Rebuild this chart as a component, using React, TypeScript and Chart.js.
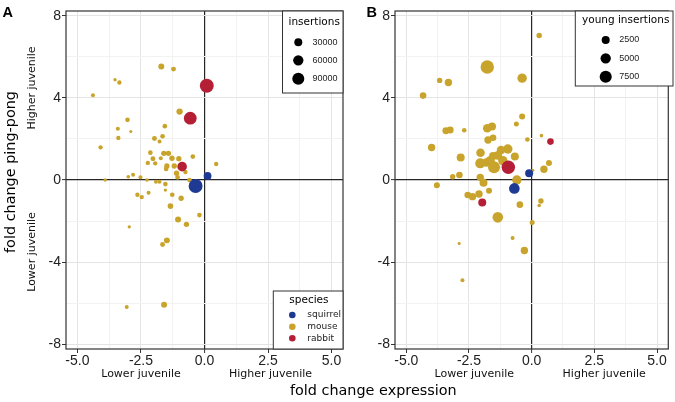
import React, { useEffect, useRef } from 'react';
import { Chart, registerables } from 'chart.js';

Chart.register(...registerables);

// ---------- shared axis data ----------
const xTickValues = [-5, -3.75, -2.5, -1.25, 0, 1.25, 2.5, 3.75, 5];
const xTickLabels = ['-5.0', '', '-2.5', '', '0.0', '', '2.5', '', '5.0'];
const yTickValues = [-8, -6, -4, -2, 0, 2, 4, 6, 8];
const yTickLabels = ['-8', '', '-4', '', '0', '', '4', '', '8'];
const speciesNames = ['squirrel', 'mouse', 'rabbit'];
const speciesColors = ['#1f3a93', '#c9a42c', '#b41f36'];

// ---------- panel A : insertions ----------
const aLegendValues = [30000, 60000, 90000];
const aMouseX = [-1.70, -1.22, -3.52, -3.35, -4.39, -0.98, -3.03, -1.56, -3.41, -2.90, -3.39, -1.97, -1.65, -1.77, -4.09, -0.46, 0.46, -2.13, -1.60, -1.42, -2.03, -2.23, -1.94, -1.72, -1.28, -1.01, -1.48, -1.51, -1.19, -1.10, -1.06, -0.75, -0.59, -3.00, -2.81, -2.52, -2.26, -3.91, -1.91, -1.77, -1.54, -1.54, -2.64, -2.47, -2.20, -1.27, -0.92, -1.34, -0.20, -1.04, -0.71, -2.96, -1.48, -1.65, -3.06, -1.59];
const aMouseY = [5.53, 5.40, 4.88, 4.75, 4.13, 3.33, 2.93, 2.62, 2.49, 2.36, 2.05, 2.02, 2.13, 1.87, 1.59, 1.14, 0.78, 1.33, 1.30, 1.30, 1.04, 0.83, 0.81, 1.06, 1.06, 1.04, 0.68, 0.54, 0.68, 0.33, 0.13, 0.39, 0.00, 0.16, 0.26, 0.13, 0.00, 0.00, -0.08, -0.08, -0.20, -0.49, -0.72, -0.83, -0.62, -0.72, -0.89, -1.27, -1.71, -1.92, -2.16, -2.28, -2.94, -3.14, -6.18, -6.08];
const aMouseIns = [12000, 6000, 700, 3300, 2200, 14500, 4600, 4600, 2200, 250, 3300, 6000, 4600, 2200, 3300, 4600, 3300, 4600, 8000, 8000, 6000, 3300, 3300, 2200, 8000, 8000, 8000, 4600, 8000, 8000, 4600, 3300, 4600, 1300, 2200, 2200, 1300, 700, 2200, 2200, 4600, 700, 3300, 3300, 2200, 4600, 8000, 9900, 4600, 12000, 8000, 700, 12000, 6000, 2200, 12000];
const aSquirrelX = [-0.35, 0.12];
const aSquirrelY = [-0.29, 0.20];
const aSquirrelIns = [130000, 28000];
const aRabbitX = [0.09, -0.56, -0.88];
const aRabbitY = [4.59, 3.01, 0.65];
const aRabbitIns = [130000, 105000, 50000];

// ---------- panel B : young insertions ----------
const bLegendValues = [2500, 5000, 7500];
const bMouseX = [-1.77, -0.38, -3.67, -3.32, -4.33, 0.30, -0.38, -0.61, -3.42, -3.25, -2.69, -1.77, -1.58, -1.74, -1.54, -0.17, 0.39, -3.99, -2.83, -2.04, -1.54, -1.22, -0.95, -0.67, -2.05, -1.81, -1.50, -1.15, -1.35, -1.65, 0.49, 0.69, 0.04, -0.59, -3.15, -2.88, -3.78, -2.05, -1.92, -1.70, -2.55, -2.36, -2.10, -0.47, 0.37, 0.30, -1.35, 0.02, -0.76, -2.89, -0.29, -2.76];
const bMouseY = [5.50, 4.96, 4.85, 4.75, 4.11, 7.04, 3.09, 2.73, 2.40, 2.43, 2.42, 2.52, 2.60, 1.95, 2.06, 1.97, 2.16, 1.58, 1.09, 1.33, 1.17, 1.46, 1.51, 1.14, 0.81, 0.85, 0.62, 0.94, 1.20, 0.95, 0.52, 0.83, 0.47, 0.00, 0.16, 0.24, -0.26, 0.13, -0.13, -0.52, -0.73, -0.81, -0.68, -1.20, -1.02, -1.24, -1.82, -2.07, -2.83, -3.09, -3.43, -4.88];
const bMouseIns = [9700, 3900, 690, 1960, 1370, 690, 1000, 510, 1650, 1650, 360, 3040, 2470, 1960, 1370, 360, 100, 1960, 2470, 3040, 2470, 3040, 3890, 2470, 4590, 3040, 7370, 3890, 3040, 3450, 1960, 1000, 66, 3890, 690, 1370, 1000, 1960, 2470, 1000, 1370, 1960, 1960, 1370, 690, 100, 5360, 510, 184, 20, 1960, 184];
const bSquirrelX = [-0.10, -0.69];
const bSquirrelY = [0.33, -0.41];
const bSquirrelIns = [2470, 5360];
const bRabbitX = [0.75, -0.93, -1.97];
const bRabbitY = [1.87, 0.62, -1.09];
const bRabbitIns = [1370, 9700, 2470];

// size scales (area-like, sqrt)
const radiusA = (v: number) => 1.26 + 0.5 * Math.sqrt(v / 1000);
const radiusB = (v: number) => 1.25 + 1.75 * Math.sqrt(v / 1000);

const X_MIN = -5.45, X_MAX = 5.45, Y_MIN = -8.23, Y_MAX = 8.23;
const TICK_FONT = '"Liberation Sans", Arial, sans-serif';
const TEXT_FONT = '"DejaVu Sans", Verdana, sans-serif';

const majorX = new Set([-5, -2.5, 0, 2.5, 5]);
const majorY = new Set([-8, -4, 0, 4, 8]);

function gridColor(major: Set<number>) {
  return (ctx: any) => {
    const v = ctx.tick ? ctx.tick.value : 1;
    if (v === 0) return '#262626';
    return major.has(v) ? '#e4e4e4' : '#f2f2f2';
  };
}
function gridWidth(ctx: any) {
  const v = ctx.tick ? ctx.tick.value : 1;
  return v === 0 ? 1.2 : 1;
}
function tickColor(major: Set<number>) {
  return (ctx: any) => {
    const v = ctx.tick ? ctx.tick.value : 1;
    return major.has(v) ? '#333333' : 'rgba(0,0,0,0)';
  };
}

function makeDataset(label: string, xs: number[], ys: number[], vs: number[], color: string, rfn: (v: number) => number, order: number) {
  const r = vs.map(rfn);
  return {
    label,
    data: xs.map((x, i) => ({ x, y: ys[i] })),
    backgroundColor: color,
    borderWidth: 0,
    pointBorderWidth: 0,
    pointRadius: r,
    pointHoverRadius: r,
    order,
  };
}

function rotText(ctx: CanvasRenderingContext2D, text: string, x: number, y: number, font: string, color: string) {
  ctx.save();
  ctx.translate(x, y);
  ctx.rotate(-Math.PI / 2);
  ctx.font = font;
  ctx.fillStyle = color;
  ctx.textAlign = 'center';
  ctx.textBaseline = 'middle';
  ctx.fillText(text, 0, 0);
  ctx.restore();
}
function text(ctx: CanvasRenderingContext2D, s: string, x: number, y: number, font: string, color: string, align: CanvasTextAlign = 'center', base: CanvasTextBaseline = 'middle') {
  ctx.save();
  ctx.font = font;
  ctx.fillStyle = color;
  ctx.textAlign = align;
  ctx.textBaseline = base;
  ctx.fillText(s, x, y);
  ctx.restore();
}
function box(ctx: CanvasRenderingContext2D, x1: number, y1: number, x2: number, y2: number) {
  ctx.save();
  ctx.fillStyle = '#ffffff';
  ctx.fillRect(x1, y1, x2 - x1, y2 - y1);
  ctx.strokeStyle = '#333333';
  ctx.lineWidth = 1;
  ctx.strokeRect(x1, y1, x2 - x1, y2 - y1);
  ctx.restore();
}
function dot(ctx: CanvasRenderingContext2D, x: number, y: number, r: number, color: string) {
  ctx.save();
  ctx.fillStyle = color;
  ctx.beginPath();
  ctx.arc(x, y, r, 0, Math.PI * 2);
  ctx.fill();
  ctx.restore();
}

type PanelCfg = {
  letter: string;
  letterX: number;
  left: number;
  right: number;
  datasets: any[];
  legendTitle: string;
  legendValues: number[];
  rfn: (v: number) => number;
  legendBox: [number, number, number, number];
  legendTitleX: number;
  legendDotX: number;
  legendLabelX: number;
  legendRowsY: number[];
  legendTitleY: number;
  xSub: [number, number];
  extra: (ctx: CanvasRenderingContext2D) => void;
};

function makeConfig(p: PanelCfg): any {
  const overlay = {
    id: 'overlay' + p.letter,
    afterDraw(chart: any) {
      const ctx: CanvasRenderingContext2D = chart.ctx;
      const a = chart.chartArea;
      // panel border
      ctx.save();
      ctx.strokeStyle = '#333333';
      ctx.lineWidth = 1.2;
      ctx.strokeRect(a.left, a.top, a.right - a.left, a.bottom - a.top);
      ctx.restore();
      // size legend
      const [bx1, by1, bx2, by2] = p.legendBox;
      box(ctx, bx1, by1, bx2, by2);
      text(ctx, p.legendTitle, p.legendTitleX, p.legendTitleY, '10.5px ' + TEXT_FONT, '#000', 'left');
      p.legendValues.forEach((v, i) => {
        dot(ctx, p.legendDotX, p.legendRowsY[i], p.rfn(v), '#000');
        text(ctx, String(v), p.legendLabelX, p.legendRowsY[i], '9px ' + TICK_FONT, '#222', 'left');
      });
      // x sub labels
      text(ctx, 'Lower juvenile', p.xSub[0], 374, '11px ' + TEXT_FONT, '#111');
      text(ctx, 'Higher juvenile', p.xSub[1], 374, '11px ' + TEXT_FONT, '#111');
      // panel letter
      text(ctx, p.letter, p.letterX, 16.5, 'bold 14.5px ' + TICK_FONT, '#000', 'left', 'alphabetic');
      p.extra(ctx);
    },
  };
  return {
    type: 'scatter',
    data: { datasets: p.datasets },
    plugins: [overlay],
    options: {
      animation: false,
      responsive: false,
      events: [],
      layout: { padding: { left: p.left - 60, right: 675 - p.right, top: 11, bottom: 0 } },
      plugins: { legend: { display: false }, tooltip: { enabled: false } },
      scales: {
        x: {
          type: 'linear',
          min: X_MIN,
          max: X_MAX,
          afterBuildTicks: (s: any) => { s.ticks = xTickValues.map((v) => ({ value: v })); },
          afterFit: (s: any) => { s.height = 53; },
          border: { display: false },
          grid: { color: gridColor(majorX), lineWidth: gridWidth, tickLength: 4, tickColor: tickColor(majorX), tickWidth: 1, drawTicks: true },
          ticks: {
            autoSkip: false, maxRotation: 0, minRotation: 0, padding: 0, color: '#222',
            font: { family: TICK_FONT, size: 14 },
            callback: (v: number) => xTickLabels[xTickValues.indexOf(v)] ?? '',
          },
        },
        y: {
          type: 'linear',
          min: Y_MIN,
          max: Y_MAX,
          afterBuildTicks: (s: any) => { s.ticks = yTickValues.map((v) => ({ value: v })); },
          afterFit: (s: any) => { s.width = 60; },
          border: { display: false },
          grid: { color: gridColor(majorY), lineWidth: gridWidth, tickLength: 4, tickColor: tickColor(majorY), tickWidth: 1, drawTicks: true },
          ticks: {
            autoSkip: false, padding: 1, color: '#222',
            font: { family: TICK_FONT, size: 14 },
            callback: (v: number) => yTickLabels[yTickValues.indexOf(v)] ?? '',
          },
        },
      },
    },
  };
}

const configA = (): any => makeConfig({
  letter: 'A',
  letterX: 2.5,
  left: 66,
  right: 343,
  datasets: [
    makeDataset('rabbit', aRabbitX, aRabbitY, aRabbitIns, speciesColors[2], radiusA, 1),
    makeDataset('squirrel', aSquirrelX, aSquirrelY, aSquirrelIns, speciesColors[0], radiusA, 2),
    makeDataset('mouse', aMouseX, aMouseY, aMouseIns, speciesColors[1], radiusA, 3),
  ],
  legendTitle: 'insertions',
  legendValues: aLegendValues,
  rfn: radiusA,
  legendBox: [282.5, 11, 343, 93],
  legendTitleX: 288.5,
  legendTitleY: 22.5,
  legendDotX: 298.3,
  legendLabelX: 312.5,
  legendRowsY: [42.3, 60.3, 78.7],
  xSub: [141, 270.5],
  extra: (ctx) => {
    // y axis title + sub labels
    rotText(ctx, 'fold change ping-pong', 11.5, 172, '14.4px ' + TEXT_FONT, '#000');
    rotText(ctx, 'Higher juvenile', 32.5, 88, '11px ' + TEXT_FONT, '#111');
    rotText(ctx, 'Lower juvenile', 32.5, 252, '11px ' + TEXT_FONT, '#111');
    // species legend
    box(ctx, 273.3, 291, 343, 349);
    text(ctx, 'species', 289.3, 300, '10.5px ' + TEXT_FONT, '#000', 'left');
    const rows = [315, 326.7, 338.3];
    speciesNames.forEach((n, i) => {
      dot(ctx, 292.3, rows[i], 3.3, speciesColors[i]);
      text(ctx, n, 307.3, rows[i], '9px ' + TEXT_FONT, '#222', 'left');
    });
  },
});

const configB = (): any => makeConfig({
  letter: 'B',
  letterX: 366.5,
  left: 395,
  right: 673,
  datasets: [
    makeDataset('rabbit', bRabbitX, bRabbitY, bRabbitIns, speciesColors[2], radiusB, 1),
    makeDataset('squirrel', bSquirrelX, bSquirrelY, bSquirrelIns, speciesColors[0], radiusB, 2),
    makeDataset('mouse', bMouseX, bMouseY, bMouseIns, speciesColors[1], radiusB, 3),
  ],
  legendTitle: 'young insertions',
  legendValues: bLegendValues,
  rfn: radiusB,
  legendBox: [575.3, 11, 673, 86],
  legendTitleX: 582,
  legendTitleY: 20.7,
  legendDotX: 605.7,
  legendLabelX: 619.3,
  legendRowsY: [40, 58.3, 76.7],
  xSub: [474.3, 604.2],
  extra: (ctx) => {
    text(ctx, 'fold change expression', 373.3, 391, '14.4px ' + TEXT_FONT, '#000');
  },
});

export default function App() {
  const refA = useRef<HTMLCanvasElement | null>(null);
  const refB = useRef<HTMLCanvasElement | null>(null);
  useEffect(() => {
    const cA = new Chart(refA.current as HTMLCanvasElement, configA());
    const cB = new Chart(refB.current as HTMLCanvasElement, configB());
    return () => { cA.destroy(); cB.destroy(); };
  }, []);
  const cs: React.CSSProperties = { position: 'absolute', left: 0, top: 0, width: 675, height: 402 };
  return (
    <div style={{ position: 'fixed', left: 0, top: 0, width: 675, height: 402, background: '#ffffff' }}>
      <canvas ref={refA} width={675} height={402} style={cs} />
      <canvas ref={refB} width={675} height={402} style={cs} />
    </div>
  );
}
